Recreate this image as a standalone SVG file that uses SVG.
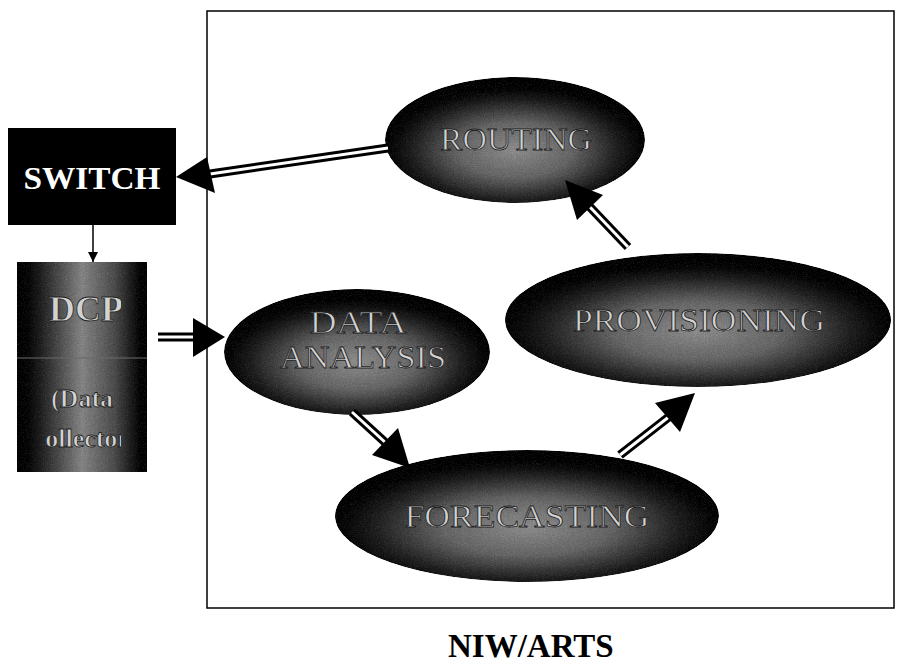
<svg xmlns="http://www.w3.org/2000/svg" width="901" height="671" viewBox="0 0 901 671">
  <defs>
    <radialGradient id="ovalFill" cx="50%" cy="58%" r="55%">
      <stop offset="0" stop-color="#9a9a9a"/>
      <stop offset="0.4" stop-color="#737373"/>
      <stop offset="0.72" stop-color="#2e2e2e"/>
      <stop offset="1" stop-color="#000"/>
    </radialGradient>
    <linearGradient id="dcpFill" x1="0" y1="0" x2="1" y2="0">
      <stop offset="0" stop-color="#000"/>
      <stop offset="0.18" stop-color="#2e2e2e"/>
      <stop offset="0.5" stop-color="#929292"/>
      <stop offset="0.75" stop-color="#5a5a5a"/>
      <stop offset="1" stop-color="#000"/>
    </linearGradient>
    <!-- dithered grain over the shaded shapes -->
    <filter id="grain" x="0" y="0" width="100%" height="100%" color-interpolation-filters="sRGB">
      <feTurbulence type="fractalNoise" baseFrequency="0.9" numOctaves="2" seed="3" result="n"/>
      <feColorMatrix in="n" type="saturate" values="0" result="g"/>
      <feComposite in="g" in2="SourceGraphic" operator="arithmetic" k1="0" k2="0.3" k3="1" k4="-0.15" result="m"/>
      <feComposite in="m" in2="SourceGraphic" operator="in"/>
    </filter>
    <clipPath id="dcpClip">
      <rect x="45" y="262" width="76" height="210"/>
    </clipPath>
    <marker id="smallHead" viewBox="0 0 10 10" refX="10" refY="5" markerWidth="10" markerHeight="10" markerUnits="userSpaceOnUse" orient="auto">
      <path d="M0,0 L10,5 L0,10 Z" fill="#000"/>
    </marker>
    <style>
      .frame { fill: none; stroke: #000; stroke-width: 1.5; }
      .oval { fill: url(#ovalFill); filter: url(#grain); }
      .olabel { font-family: "Liberation Serif", "Times New Roman", serif; font-size: 32px; fill: #d2d2d2; stroke: #1e1e1e; stroke-width: 0.8; text-anchor: middle; }
      .dlabel { font-size: 26px; font-weight: bold; }
      .rail { fill: none; stroke: #000; stroke-width: 9; }
      .gap { fill: none; stroke: #fff; stroke-width: 3; }
      .head { fill: #000; }
      .title { font-family: "Liberation Serif", "Times New Roman", serif; font-weight: bold; fill: #000; }
    </style>
  </defs>

  <rect class="frame" x="207" y="11" width="687" height="597"/>

  <g id="switch">
    <rect x="8" y="128" width="168" height="97" fill="#000"/>
    <text class="title" x="92" y="189" font-size="32" style="fill:#fff" text-anchor="middle" textLength="137" lengthAdjust="spacingAndGlyphs">SWITCH</text>
  </g>

  <g id="dcp">
    <rect x="17" y="262" width="130" height="210" fill="url(#dcpFill)" filter="url(#grain)"/>
    <line x1="17" y1="358" x2="147" y2="358" stroke="#6a6a6a" stroke-width="1"/>
    <g clip-path="url(#dcpClip)">
      <text class="olabel" x="86" y="321" style="font-size:36px;font-weight:bold">DCP</text>
      <text class="olabel dlabel" x="82" y="407">(Data</text>
      <text class="olabel dlabel" x="82" y="447">Collector)</text>
    </g>
  </g>

  <g id="routing">
    <ellipse class="oval" cx="515" cy="140" rx="130" ry="63"/>
    <text class="olabel" x="516" y="150" textLength="152" lengthAdjust="spacingAndGlyphs">ROUTING</text>
  </g>

  <g id="data-analysis">
    <ellipse class="oval" cx="357" cy="352" rx="133" ry="63"/>
    <text class="olabel" x="358" y="333" textLength="97" lengthAdjust="spacingAndGlyphs">DATA</text>
    <text class="olabel" x="363" y="368" textLength="166" lengthAdjust="spacingAndGlyphs">ANALYSIS</text>
  </g>

  <g id="provisioning">
    <ellipse class="oval" cx="698" cy="320" rx="193" ry="67"/>
    <text class="olabel" x="699" y="331" textLength="252" lengthAdjust="spacingAndGlyphs">PROVISIONING</text>
  </g>

  <g id="forecasting">
    <ellipse class="oval" cx="527" cy="516" rx="192" ry="66"/>
    <text class="olabel" x="527" y="527" textLength="245" lengthAdjust="spacingAndGlyphs">FORECASTING</text>
  </g>

  <g id="connectors">
    <!-- switch to data collector -->
    <line x1="93" y1="225" x2="93" y2="262" stroke="#000" stroke-width="1.5" marker-end="url(#smallHead)"/>

    <!-- routing to switch -->
    <line class="rail" x1="388" y1="148" x2="210" y2="174"/>
    <line class="gap" x1="388" y1="148" x2="210" y2="174"/>
    <polygon class="head" points="176,177 207,157 215,193"/>

    <!-- data collector to data analysis -->
    <line class="rail" x1="158" y1="337" x2="196" y2="337"/>
    <line class="gap" x1="158" y1="337" x2="196" y2="337"/>
    <polygon class="head" points="225,337 193,318 193,357"/>

    <!-- data analysis to forecasting -->
    <line class="rail" x1="352" y1="412" x2="387" y2="444"/>
    <line class="gap" x1="352" y1="412" x2="387" y2="444"/>
    <polygon class="head" points="410,468 372,455 398,428"/>

    <!-- forecasting to provisioning -->
    <line class="rail" x1="620" y1="455" x2="670" y2="416"/>
    <line class="gap" x1="620" y1="455" x2="670" y2="416"/>
    <polygon class="head" points="695,393 655,403 680,432"/>

    <!-- provisioning to routing -->
    <line class="rail" x1="628" y1="247" x2="589" y2="206"/>
    <line class="gap" x1="628" y1="247" x2="589" y2="206"/>
    <polygon class="head" points="565,180 577,220 603,195"/>
  </g>

  <text class="title" x="448" y="657" font-size="33">NIW/ARTS</text>
</svg>
